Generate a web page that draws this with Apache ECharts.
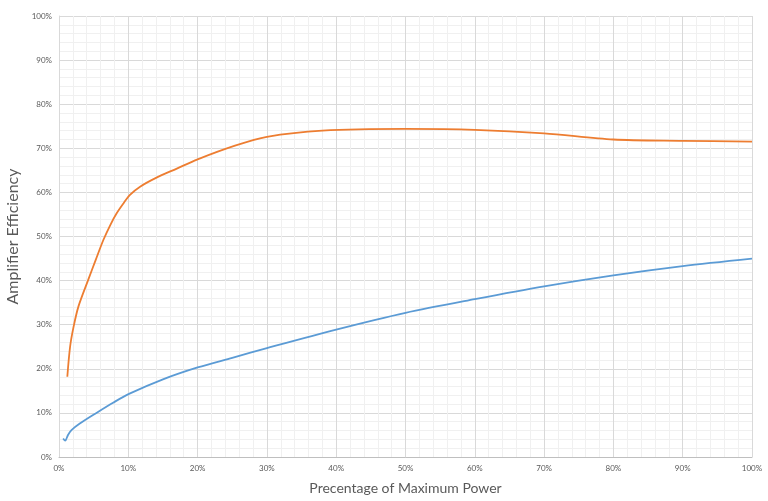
<!DOCTYPE html>
<html>
<head>
<meta charset="utf-8">
<script src="https://cdn.jsdelivr.net/npm/echarts@6/dist/echarts.min.js"></script>
<style>html,body{margin:0;padding:0;background:#fff}#c{width:768px;height:501px}</style>
</head>
<body>
<div id="c"></div>
<script>
var orangeX = [1.2, 1.6, 2.1, 2.8, 4.2, 5.3, 6.4, 7.4, 8.3, 9.3, 10.2, 11.7, 14, 17, 20, 25.4, 30, 38, 50, 60, 70, 80, 90, 100];
var orangeY = [18.2, 25.0, 29.5, 34.1, 40.1, 44.7, 49.2, 52.6, 55.2, 57.5, 59.4, 61.3, 63.3, 65.4, 67.5, 70.6, 72.6, 74.0, 74.4, 74.2, 73.4, 72.0, 71.7, 71.5];
var blueX = [0.6, 0.9, 1.3, 1.8, 3.0, 5.4, 7.8, 10.1, 15, 20, 25, 30, 40, 50, 60, 70, 80, 90, 100];
var blueY = [4.2, 3.7, 5.0, 6.1, 7.6, 10.0, 12.3, 14.3, 17.6, 20.3, 22.5, 24.7, 28.9, 32.7, 35.8, 38.7, 41.2, 43.3, 45.0];
var xAxisName = 'Precentage of Maximum Power';
var yAxisName = 'Amplifier Efficiency';

function pairs(xs, ys) { return xs.map(function (x, i) { return [x, ys[i]]; }); }

var chart = echarts.init(document.getElementById('c'));
var font = 'Lato, "Open Sans", sans-serif';
chart.setOption({
  animation: false,
  grid: { left: 59, right: 16, top: 16, bottom: 44, containLabel: false, outerBoundsMode: 'none' },
  xAxis: {
    type: 'value', min: 0, max: 100, interval: 10,
    name: xAxisName, nameLocation: 'middle', nameGap: 24,
    nameTextStyle: { fontFamily: font, fontSize: 14, color: '#595959' },
    axisLine: { show: true, lineStyle: { color: '#bfbfbf', width: 1 } },
    axisTick: { show: false },
    axisLabel: { formatter: '{value}%', fontFamily: font, fontSize: 8, color: '#595959', margin: 7 },
    splitLine: { show: true, lineStyle: { color: '#d9d9d9', width: 1 } },
    minorTick: { show: false, splitNumber: 5 },
    minorSplitLine: { show: true, lineStyle: { color: '#f0f0f0', width: 1 } }
  },
  yAxis: {
    type: 'value', min: 0, max: 100, interval: 10,
    name: yAxisName, nameLocation: 'middle', nameGap: 29,
    nameTextStyle: { fontFamily: font, fontSize: 16, color: '#595959' },
    axisLine: { show: true, lineStyle: { color: '#d9d9d9', width: 1 } },
    axisTick: { show: false },
    axisLabel: { formatter: '{value}%', fontFamily: font, fontSize: 8, color: '#595959', margin: 7 },
    splitLine: { show: true, lineStyle: { color: '#d9d9d9', width: 1 } },
    minorTick: { show: false, splitNumber: 5 },
    minorSplitLine: { show: true, lineStyle: { color: '#f0f0f0', width: 1 } }
  },
  series: [
    { type: 'line', data: pairs(blueX, blueY), smooth: 0.3, showSymbol: false,
      lineStyle: { color: '#5B9BD5', width: 1.8 }, z: 3 },
    { type: 'line', data: pairs(orangeX, orangeY), smooth: 0.3, showSymbol: false,
      lineStyle: { color: '#ED7D31', width: 1.8 }, z: 4 }
  ]
});
</script>
</body>
</html>
